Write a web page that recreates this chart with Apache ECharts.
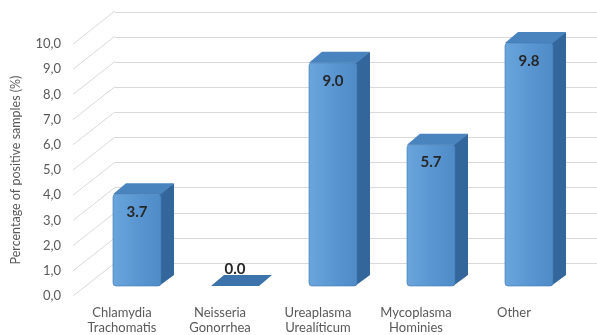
<!DOCTYPE html>
<html>
<head>
<meta charset="utf-8">
<script src="https://cdn.jsdelivr.net/npm/echarts@6/dist/echarts.min.js"></script>
<style>
  html, body { margin: 0; padding: 0; background: #fff; }
  #chart { width: 597px; height: 335px; }
</style>
</head>
<body>
<div id="chart"></div>
<script>
const categories = ["Chlamydia\nTrachomatis", "Neisseria\nGonorrhea", "Ureaplasma\nUrealíticum", "Mycoplasma\nHominies", "Other"];
const values = [3.7, 0.0, 9.0, 5.7, 9.8];
const yTicks = [0, 1, 2, 3, 4, 5, 6, 7, 8, 9, 10];

const FONT = "Lato";
// fake 3d depth
const wallDx = 42, wallDy = -33;
const barDx = 13, barDy = -11;

const chart = echarts.init(document.getElementById("chart"));

function renderWallLine(params, api) {
  const y = api.coord([0, api.value(1)])[1];
  const x = params.coordSys.x;
  return {
    type: "line",
    shape: { x1: x, y1: y, x2: x + wallDx, y2: y + wallDy },
    style: { stroke: "#d9d9d9", lineWidth: 1 }
  };
}

function renderBar(params, api) {
  const v = api.value(1);
  const top = api.coord([api.value(0), v]);
  const base = api.coord([api.value(0), 0]);
  const w = api.size([1, 0])[0] * 0.49;
  const x0 = top[0] - w / 2, x1 = top[0] + w / 2;
  const yt = top[1], yb = base[1];
  const children = [];
  if (yb - yt > 0.5) {
    children.push({
      type: "polygon",
      shape: { points: [[x1 - 2, yt], [x1 + barDx, yt + barDy], [x1 + barDx, yb + barDy], [x1 - 2, yb]] },
      style: { fill: "#33679b" }
    });
  }
  children.push({
    type: "polygon",
    shape: { points: [[x0, yt], [x0 + barDx, yt + barDy], [x1 + barDx, yt + barDy], [x1, yt]] },
    style: { fill: v > 0 ? "#4a84bf" : "#3c73ab" }
  });
  if (yb - yt > 0.5) {
    children.push({
      type: "rect",
      shape: { x: x0, y: yt, width: w, height: yb - yt, r: 3 },
      style: {
        fill: new echarts.graphic.LinearGradient(0, 0, 1, 0, [
          { offset: 0, color: "#6aa5dc" },
          { offset: 0.5, color: "#5a97d2" },
          { offset: 1, color: "#4f8bc7" }
        ]),
        stroke: "#3f78b1",
        lineWidth: 0.6
      }
    });
  }
  children.push({
    type: "text",
    style: {
      text: v.toFixed(1),
      x: top[0],
      y: v > 0 ? yt + 18 : yt - 17,
      align: "center",
      verticalAlign: "middle",
      fontFamily: FONT,
      fontWeight: "bold",
      fontSize: 15,
      fill: "#262626"
    }
  });
  return { type: "group", children };
}

chart.setOption({
  animation: false,
  grid: [
    { left: 115, right: 0, top: 12, height: 251 },
    { left: 73, width: 490, top: 44, height: 252 },
    { left: 88, width: 490, top: 38, height: 248 }
  ],
  xAxis: [
    { gridIndex: 0, type: "value", show: false, min: 0, max: 1 },
    {
      gridIndex: 1,
      type: "category",
      data: categories,
      axisLine: { show: false },
      axisTick: { show: false },
      axisLabel: { color: "#595959", fontFamily: FONT, fontSize: 13, lineHeight: 15, margin: 9 }
    },
    { gridIndex: 2, type: "category", data: categories, show: false }
  ],
  yAxis: [
    {
      gridIndex: 0,
      type: "value",
      min: 0,
      max: 10,
      interval: 1,
      axisLine: { show: false },
      axisTick: { show: false },
      axisLabel: { show: false },
      splitLine: { lineStyle: { color: "#d9d9d9", width: 1 } }
    },
    {
      gridIndex: 1,
      type: "value",
      min: 0,
      max: 10,
      interval: 1,
      axisLine: { show: false },
      axisTick: { show: false },
      splitLine: { show: false },
      axisLabel: {
        color: "#595959",
        fontFamily: FONT,
        fontSize: 13,
        margin: 12,
        formatter: (v) => v.toFixed(1).replace(".", ",")
      },
      name: "Percentage of positive samples (%)",
      nameLocation: "middle",
      nameGap: 51,
      nameTextStyle: { color: "#595959", fontFamily: FONT, fontSize: 12.5 }
    },
    { gridIndex: 2, type: "value", min: 0, max: 10, show: false }
  ],
  series: [
    {
      type: "custom",
      xAxisIndex: 1,
      yAxisIndex: 1,
      data: yTicks.map((v) => [0, v]),
      renderItem: renderWallLine,
      silent: true,
      z: 1
    },
    {
      type: "custom",
      xAxisIndex: 2,
      yAxisIndex: 2,
      data: values.map((v, i) => [i, v]),
      renderItem: renderBar,
      z: 5
    }
  ]
});
</script>
</body>
</html>
